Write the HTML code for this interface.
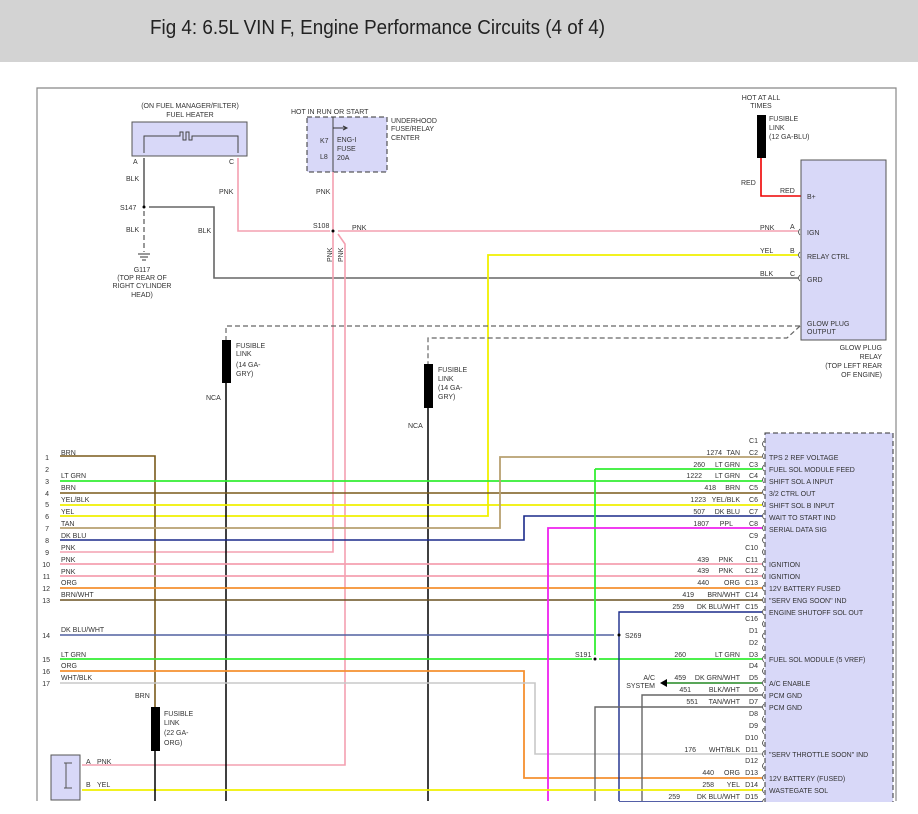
<!DOCTYPE html>
<html><head><meta charset="utf-8"><style>
html,body{margin:0;padding:0;background:#fff;}
svg{display:block;}
text{font-family:"Liberation Sans",sans-serif;font-size:7px;fill:#333;}
</style></head><body>
<svg width="918" height="814" viewBox="0 0 918 814" xmlns="http://www.w3.org/2000/svg">
<rect x="0" y="0" width="918" height="62" fill="#d3d3d3"/>
<text x="150" y="34" style="font-size:20px;fill:#222" textLength="455" lengthAdjust="spacingAndGlyphs">Fig 4: 6.5L VIN F, Engine Performance Circuits (4 of 4)</text>
<!-- frame -->
<path d="M37 801 V88 H896 V801" fill="none" stroke="#888" stroke-width="1.2"/>

<!-- Fuel heater -->
<text x="190" y="108" text-anchor="middle">(ON FUEL MANAGER/FILTER)</text>
<text x="190" y="117" text-anchor="middle">FUEL HEATER</text>
<rect x="132" y="122" width="115" height="34" fill="#d8d8f8" stroke="#555"/>
<path d="M144 153 V136 H180 V132 H183 V140 H186 V132 H189 V140 H192 V136 H238 V153" fill="none" stroke="#444"/>
<text x="133" y="164">A</text><text x="229" y="164">C</text>
<path d="M144 158 V207" stroke="#555" stroke-width="1.5"/>
<text x="126" y="181">BLK</text>
<circle cx="144" cy="207" r="1.5" fill="#000"/>
<text x="120" y="210">S147</text>
<path d="M144 211 V252" stroke="#555" stroke-width="1.2" stroke-dasharray="5,3"/>
<text x="126" y="232">BLK</text>
<path d="M138 254 H150 M140 257 H148 M142 260 H146" stroke="#333"/>
<text x="142" y="272" text-anchor="middle">G117</text>
<text x="142" y="280" text-anchor="middle">(TOP REAR OF</text>
<text x="142" y="288" text-anchor="middle">RIGHT CYLINDER</text>
<text x="142" y="297" text-anchor="middle">HEAD)</text>
<path d="M149 207 H214 V278 H798" fill="none" stroke="#666" stroke-width="1.6"/>
<text x="198" y="233">BLK</text>
<!-- PNK -->
<path d="M238 158 V231 H330 M338 231 H798" fill="none" stroke="#f4a0b0" stroke-width="1.6"/>
<text x="219" y="194">PNK</text>
<!-- fuse block -->
<text x="291" y="114">HOT IN RUN OR START</text>
<rect x="307" y="117" width="80" height="55" fill="#d8d8f8" stroke="#333" stroke-dasharray="5,3"/>
<path d="M333 117 V172" stroke="#444"/>
<path d="M333 128 H346 M343 126 L347 128 L343 130" fill="none" stroke="#333"/>
<text x="320" y="143">K7</text><text x="337" y="142">ENG-I</text>
<text x="337" y="151">FUSE</text><text x="320" y="159">L8</text><text x="337" y="160">20A</text>
<text x="391" y="123">UNDERHOOD</text><text x="391" y="131">FUSE/RELAY</text><text x="391" y="140">CENTER</text>
<path d="M333 172 V552 H60" fill="none" stroke="#f4a0b0" stroke-width="1.6"/>
<text x="316" y="194">PNK</text>
<circle cx="333" cy="231" r="1.5" fill="#000"/>
<text x="313" y="228">S108</text>
<text x="352" y="230">PNK</text>
<path d="M338 234 L345 244 V765 H82" fill="none" stroke="#f4a0b0" stroke-width="1.6"/>
<text x="332" y="262" transform="rotate(-90 332 262)">PNK</text>
<text x="343" y="262" transform="rotate(-90 343 262)">PNK</text>

<!-- top right fusible link & relay -->
<text x="761" y="100" text-anchor="middle">HOT AT ALL</text>
<text x="761" y="108" text-anchor="middle">TIMES</text>
<rect x="757" y="115" width="9" height="43" fill="#000"/>
<text x="769" y="121">FUSIBLE</text><text x="769" y="130">LINK</text><text x="769" y="139">(12 GA-BLU)</text>
<path d="M761 158 V196 H801" fill="none" stroke="#e00" stroke-width="1.6"/>
<text x="741" y="185">RED</text><text x="780" y="193">RED</text>
<rect x="801" y="160" width="85" height="180" fill="#d8d8f8" stroke="#555"/>
<text x="807" y="199">B+</text>
<text x="807" y="235">IGN</text><text x="790" y="229">A</text><text x="760" y="230">PNK</text>
<text x="807" y="259">RELAY CTRL</text><text x="790" y="253">B</text><text x="760" y="253">YEL</text>
<text x="807" y="282">GRD</text><text x="790" y="276">C</text><text x="760" y="276">BLK</text>
<text x="807" y="326">GLOW PLUG</text><text x="807" y="334">OUTPUT</text>
<text x="882" y="350" text-anchor="end">GLOW PLUG</text><text x="882" y="359" text-anchor="end">RELAY</text>
<text x="882" y="368" text-anchor="end">(TOP LEFT REAR</text><text x="882" y="377" text-anchor="end">OF ENGINE)</text>
<path d="M798 255 H488 V516 H60" fill="none" stroke="#f0f000" stroke-width="1.8"/>
<!-- dashed glow plug -->
<path d="M800 326 H226 V340" fill="none" stroke="#666" stroke-width="1.2" stroke-dasharray="5,3"/>
<path d="M800 326 L787 338 H428 V364" fill="none" stroke="#666" stroke-width="1.2" stroke-dasharray="5,3"/>
<rect x="222" y="340" width="9" height="43" fill="#000"/>
<text x="236" y="348">FUSIBLE</text><text x="236" y="356">LINK</text><text x="236" y="367">(14 GA-</text><text x="236" y="376">GRY)</text>
<text x="206" y="400">NCA</text>
<path d="M226 383 V801" stroke="#000" stroke-width="1.5"/>
<rect x="424" y="364" width="9" height="44" fill="#000"/>
<text x="438" y="372">FUSIBLE</text><text x="438" y="381">LINK</text><text x="438" y="390">(14 GA-</text><text x="438" y="399">GRY)</text>
<text x="408" y="428">NCA</text>
<path d="M428 408 V801" stroke="#000" stroke-width="1.5"/>

<!-- left wires -->
<g fill="none">
<path d="M60 456 H155 V707" stroke="#7a5a1a" stroke-width="1.6"/>
<path d="M60 481 H762" stroke="#33ee33" stroke-width="1.8"/>
<path d="M60 493 H762" stroke="#7a5a1a" stroke-width="1.6"/>
<path d="M60 505 H762" stroke="#f0f000" stroke-width="1.8"/>
<path d="M60 528 H500 V457 H762" stroke="#b8a070" stroke-width="1.8"/>
<path d="M60 540 H524 V516 H762" stroke="#1a2a8a" stroke-width="1.6"/>
<path d="M60 564 H762" stroke="#f4a0b0" stroke-width="1.8"/>
<path d="M60 576 H762" stroke="#f4a0b0" stroke-width="1.8"/>
<path d="M60 588 H762" stroke="#f59030" stroke-width="1.8"/>
<path d="M60 600 H762" stroke="#6a5020" stroke-width="1.4"/>
<path d="M60 635 H614" stroke="#5060a0" stroke-width="1.6"/>
<path d="M60 659 H592 M599 659 H762" stroke="#33ee33" stroke-width="1.8"/>
<path d="M595 469 H762 M595 469 V655" stroke="#33ee33" stroke-width="1.8"/>
<path d="M60 671 H524 V778 H762" stroke="#f59030" stroke-width="1.8"/>
<path d="M60 683 H535 V754 H762" stroke="#c8c8c8" stroke-width="1.6"/>
<path d="M548 801 V528 H762" stroke="#ee22ee" stroke-width="1.8"/>
<path d="M619 801 V612 H762 M619 802 H762" stroke="#1a2a8a" stroke-width="1.4"/>
<path d="M642 801 V695 H762" stroke="#666" stroke-width="1.4"/>
<path d="M595 801 V707 H762" stroke="#666" stroke-width="1.4"/>
<path d="M665 683 H762" stroke="#228822" stroke-width="1.6"/>
<path d="M82 790 H762" stroke="#f0f000" stroke-width="1.8"/>
</g>
<path d="M660 683 L667 679 V687 Z" fill="#000"/>
<circle cx="595" cy="659" r="1.5" fill="#000"/>
<circle cx="619" cy="635" r="1.5" fill="#000"/>
<text x="625" y="638">S269</text><text x="575" y="657">S191</text>
<text x="655" y="680" text-anchor="end">A/C</text><text x="655" y="688" text-anchor="end">SYSTEM</text>
<g text-anchor="end">
<text x="49" y="460">1</text><text x="49" y="472">2</text><text x="49" y="484">3</text><text x="49" y="496">4</text><text x="49" y="507">5</text><text x="49" y="519">6</text><text x="49" y="531">7</text><text x="49" y="543">8</text><text x="49" y="555">9</text><text x="50" y="567">10</text><text x="50" y="579">11</text><text x="50" y="591">12</text><text x="50" y="603">13</text><text x="50" y="638">14</text><text x="50" y="662">15</text><text x="50" y="674">16</text><text x="50" y="686">17</text>
</g>
<g>
<text x="61" y="455">BRN</text><text x="61" y="478">LT GRN</text><text x="61" y="490">BRN</text><text x="61" y="502">YEL/BLK</text><text x="61" y="514">YEL</text><text x="61" y="526">TAN</text><text x="61" y="538">DK BLU</text><text x="61" y="550">PNK</text><text x="61" y="562">PNK</text><text x="61" y="574">PNK</text><text x="61" y="585">ORG</text><text x="61" y="597">BRN/WHT</text><text x="61" y="632">DK BLU/WHT</text><text x="61" y="657">LT GRN</text><text x="61" y="668">ORG</text><text x="61" y="680">WHT/BLK</text>
</g>
<!-- lower fusible link -->
<text x="135" y="698">BRN</text>
<rect x="151" y="707" width="9" height="44" fill="#000"/>
<text x="164" y="716">FUSIBLE</text><text x="164" y="725">LINK</text><text x="164" y="735">(22 GA-</text><text x="164" y="745">ORG)</text>
<path d="M155 751 V801" stroke="#000" stroke-width="1.5"/>
<!-- bottom-left connector -->
<rect x="51" y="755" width="29" height="45" fill="#d8d8f8" stroke="#555"/>
<path d="M64 763 H72 M64 788 H72 M66 763 V788" fill="none" stroke="#555"/>
<text x="86" y="764">A</text><text x="97" y="764">PNK</text>
<text x="86" y="787">B</text><text x="97" y="787">YEL</text>

<!-- right connector -->
<rect x="765" y="433" width="128" height="381" fill="#d8d8f8" stroke="#333" stroke-dasharray="5,3"/>
<g id="pins" fill="none" stroke="#444" stroke-width="0.8">
</g>
<g text-anchor="end">
<text x="758" y="443">C1</text><text x="758" y="455">C2</text><text x="758" y="467">C3</text><text x="758" y="478">C4</text><text x="758" y="490">C5</text><text x="758" y="502">C6</text><text x="758" y="514">C7</text><text x="758" y="526">C8</text><text x="758" y="538">C9</text><text x="758" y="550">C10</text><text x="758" y="562">C11</text><text x="758" y="573">C12</text><text x="758" y="585">C13</text><text x="758" y="597">C14</text><text x="758" y="609">C15</text><text x="758" y="621">C16</text><text x="758" y="633">D1</text><text x="758" y="645">D2</text><text x="758" y="657">D3</text><text x="758" y="668">D4</text><text x="758" y="680">D5</text><text x="758" y="692">D6</text><text x="758" y="704">D7</text><text x="758" y="716">D8</text><text x="758" y="728">D9</text><text x="758" y="740">D10</text><text x="758" y="752">D11</text><text x="758" y="763">D12</text><text x="758" y="775">D13</text><text x="758" y="787">D14</text><text x="758" y="799">D15</text>
<text x="740" y="455">TAN</text><text x="740" y="467">LT GRN</text><text x="740" y="478">LT GRN</text><text x="740" y="490">BRN</text><text x="740" y="502">YEL/BLK</text><text x="740" y="514">DK BLU</text><text x="733" y="526">PPL</text><text x="733" y="562">PNK</text><text x="733" y="573">PNK</text><text x="740" y="585">ORG</text><text x="740" y="597">BRN/WHT</text><text x="740" y="609">DK BLU/WHT</text><text x="740" y="657">LT GRN</text><text x="740" y="680">DK GRN/WHT</text><text x="740" y="692">BLK/WHT</text><text x="740" y="704">TAN/WHT</text><text x="740" y="752">WHT/BLK</text><text x="740" y="775">ORG</text><text x="740" y="787">YEL</text><text x="740" y="799">DK BLU/WHT</text>
<text x="722" y="455">1274</text><text x="705" y="467">260</text><text x="702" y="478">1222</text><text x="716" y="490">418</text><text x="706" y="502">1223</text><text x="705" y="514">507</text><text x="709" y="526">1807</text><text x="709" y="562">439</text><text x="709" y="573">439</text><text x="709" y="585">440</text><text x="694" y="597">419</text><text x="684" y="609">259</text><text x="686" y="657">260</text><text x="686" y="680">459</text><text x="691" y="692">451</text><text x="698" y="704">551</text><text x="696" y="752">176</text><text x="714" y="775">440</text><text x="714" y="787">258</text><text x="680" y="799">259</text>
</g>
<g>
<text x="769" y="460">TPS 2 REF VOLTAGE</text><text x="769" y="472">FUEL SOL MODULE FEED</text><text x="769" y="484">SHIFT SOL A INPUT</text><text x="769" y="496">3/2 CTRL OUT</text><text x="769" y="508">SHIFT SOL B INPUT</text><text x="769" y="520">WAIT TO START IND</text><text x="769" y="532">SERIAL DATA SIG</text><text x="769" y="567">IGNITION</text><text x="769" y="579">IGNITION</text><text x="769" y="591">12V BATTERY FUSED</text><text x="769" y="603">"SERV ENG SOON" IND</text><text x="769" y="615">ENGINE SHUTOFF SOL OUT</text><text x="769" y="662">FUEL SOL MODULE (5 VREF)</text><text x="769" y="686">A/C ENABLE</text><text x="769" y="698">PCM GND</text><text x="769" y="710">PCM GND</text><text x="769" y="757">"SERV THROTTLE SOON" IND</text><text x="769" y="781">12V BATTERY (FUSED)</text><text x="769" y="793">WASTEGATE SOL</text><text x="769" y="809">ENGINE SHUTOFF SOL OUT</text>
</g>
<g fill="none" stroke="#444" stroke-width="0.8">
<path d="M764 441 q-3 3 0 6 M764 453 q-3 3 0 6 M764 465 q-3 3 0 6 M764 477 q-3 3 0 6 M764 489 q-3 3 0 6 M764 501 q-3 3 0 6 M764 513 q-3 3 0 6 M764 525 q-3 3 0 6 M764 537 q-3 3 0 6 M764 549 q-3 3 0 6 M764 561 q-3 3 0 6 M764 573 q-3 3 0 6 M764 585 q-3 3 0 6 M764 597 q-3 3 0 6 M764 609 q-3 3 0 6 M764 621 q-3 3 0 6 M764 633 q-3 3 0 6 M764 645 q-3 3 0 6 M764 656 q-3 3 0 6 M764 668 q-3 3 0 6 M764 680 q-3 3 0 6 M764 692 q-3 3 0 6 M764 704 q-3 3 0 6 M764 716 q-3 3 0 6 M764 728 q-3 3 0 6 M764 740 q-3 3 0 6 M764 751 q-3 3 0 6 M764 763 q-3 3 0 6 M764 775 q-3 3 0 6 M764 787 q-3 3 0 6 M764 799 q-3 3 0 6"/>
<path d="M800 229 q-3 3 0 6 M800 252 q-3 3 0 6 M800 275 q-3 3 0 6"/>
</g>
<rect x="0" y="802" width="918" height="12" fill="#fff"/>
</svg>
</body></html>
